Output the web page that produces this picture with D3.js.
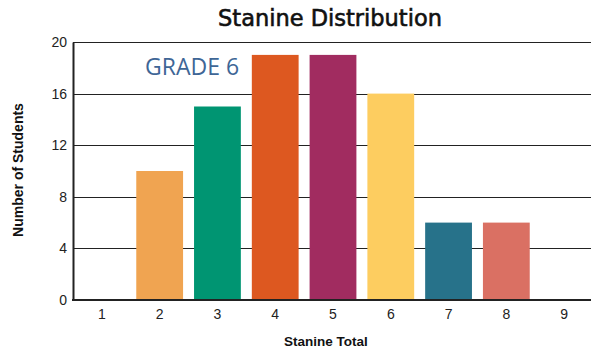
<!DOCTYPE html>
<html>
<head>
<meta charset="utf-8">
<script src="https://cdn.jsdelivr.net/npm/d3@7"></script>
<style>
  html, body { margin: 0; padding: 0; background: #fff; }
  svg { display: block; }
</style>
</head>
<body>
<svg id="chart" width="591" height="352"></svg>
<script>
// Stanine totals and number of students in each
const categories = ["1", "2", "3", "4", "5", "6", "7", "8", "9"];
const counts = [0, 10, 15, 19, 19, 16, 6, 6, 0];
const barColors = ["#f0a451", "#f0a451", "#009572", "#dd5820", "#a12c60", "#fdcd60", "#27728a", "#da7063", "#da7063"];
const yTicks = [0, 4, 8, 12, 16, 20];

const svg = d3.select("#chart");
const margin = { left: 73, right: -2, top: 42, bottom: 52 };
const W = 591, H = 352;

const x = d3.scaleBand()
  .domain(categories)
  .range([margin.left, W - margin.right])
  .paddingInner(0.19)
  .paddingOuter(0.095);

const y = d3.scaleLinear()
  .domain([0, 20])
  .range([H - margin.bottom, margin.top]);

// Horizontal gridlines
svg.append("g")
  .selectAll("line")
  .data(yTicks.filter(d => d > 0))
  .join("line")
  .attr("x1", margin.left)
  .attr("x2", W)
  .attr("y1", d => Math.round(y(d)) + 0.5)
  .attr("y2", d => Math.round(y(d)) + 0.5)
  .attr("stroke", "#222")
  .attr("stroke-width", 1);

// Bars
svg.append("g")
  .selectAll("rect")
  .data(categories.map((c, i) => ({ c, v: counts[i], color: barColors[i] })))
  .join("rect")
  .attr("x", d => x(d.c))
  .attr("width", x.bandwidth())
  .attr("y", d => y(d.v))
  .attr("height", d => y(0) - y(d.v))
  .attr("fill", d => d.color);

// Y axis
const yAxis = svg.append("g")
  .attr("transform", `translate(${margin.left},0)`)
  .call(d3.axisLeft(y).tickValues(yTicks).tickSize(0).tickPadding(6));
yAxis.select(".domain").attr("stroke", "#222").attr("stroke-width", 2);
yAxis.selectAll("text")
  .attr("font-family", "Liberation Sans, Arial, sans-serif")
  .attr("font-size", 14)
  .attr("fill", "#222");

// X axis
const xAxis = svg.append("g")
  .attr("transform", `translate(0,${y(0)})`)
  .call(d3.axisBottom(x).tickSize(0).tickPadding(9));
xAxis.select(".domain").attr("stroke", "#222").attr("stroke-width", 2)
  .attr("d", `M${margin.left - 1},0H${W}`);
xAxis.selectAll("text")
  .attr("font-family", "Liberation Sans, Arial, sans-serif")
  .attr("font-size", 14)
  .attr("fill", "#222");

// Title
svg.append("text")
  .attr("x", 330)
  .attr("y", 26)
  .attr("text-anchor", "middle")
  .attr("font-family", "DejaVu Sans, sans-serif")
  .attr("font-size", 22.5)
  .attr("fill", "#111")
  .attr("stroke", "#111")
  .attr("stroke-width", 0.6)
  .text("Stanine Distribution");

// Grade annotation
svg.append("text")
  .attr("x", 145)
  .attr("y", 75)
  .attr("font-family", "Open Sans, sans-serif")
  .attr("font-size", 23)
  .attr("fill", "#3e6696")
  .text("GRADE 6");

// Axis titles
svg.append("text")
  .attr("transform", "translate(23,170) rotate(-90)")
  .attr("text-anchor", "middle")
  .attr("font-family", "Liberation Sans, Arial, sans-serif")
  .attr("font-weight", "bold")
  .attr("font-size", 14)
  .attr("fill", "#111")
  .text("Number of Students");

svg.append("text")
  .attr("x", 326)
  .attr("y", 346)
  .attr("text-anchor", "middle")
  .attr("font-family", "Liberation Sans, Arial, sans-serif")
  .attr("font-weight", "bold")
  .attr("font-size", 13.5)
  .attr("fill", "#111")
  .text("Stanine Total");
</script>
</body>
</html>
